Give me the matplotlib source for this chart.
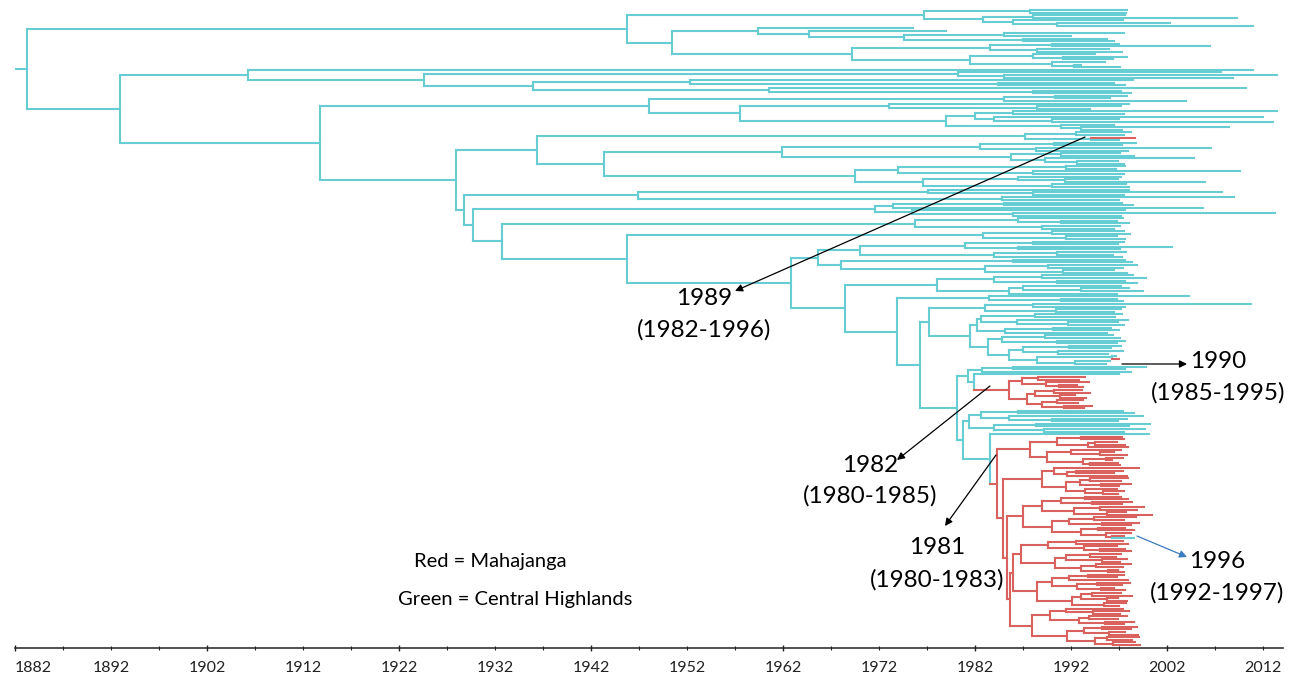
import matplotlib
matplotlib.use("Agg")
import numpy as np
import matplotlib.pyplot as plt
import matplotlib.patches
from matplotlib.collections import LineCollection
from matplotlib.ticker import FixedLocator, FuncFormatter

plt.rcParams["font.family"] = ["Lato", "DejaVu Sans"]

CYAN = "#66CED2"
RED = "#D9625F"
ARROW_BLUE = "#3A7CC0"

# ---------------- tree data (node / tip dates in calendar years) ----------------
# Newick-like strings: tips are sampling dates, ")year" gives the date of an
# internal node; prefix r = Mahajanga (red) lineage, c = Central Highlands.
A_UP = "((1997.8,1997.7)1987.7,((1997.6,2009.3)1988,(1997.4,(2002.3,2011.0)1990.5)1986)1982.8)1976.7"
A_LOW = ("((1975.5,(1979,((1997.5,1992)1985,(1995.8,1996.5)1987)1974.6)1964.7)1959.4,"
         "(((1997,2006.5)1990,(1996,1997.3)1988.5)1983.6,((1994.5,(1997.8,1996.4)1991.2)1988,"
         "(1995.5,(1993,1997.1)1992.3)1990)1981.5)1969.2)1950.4")
B1 = ("(2011.0,((2007.6,(2013.5,2008.9)1985)1980.2,((1998.5,(1996.5,1997.6)1984.4)1952.3,"
      "(2010.2,(1997.2,1998.2)1988)1960.5)1936)1924.6)1906.3")
B2A = ("(((1997.8,1996.1)1990.3,2004.0)1985,((1998,(1997.2,1994)1988.5)1973,(((2013.5,1997.5)1986,"
       "(2012.0,(1997,2013.0)1990)1984)1982,(1996.5,(2008.5,1997.3)1993)1991)1979)1957.5)1948")
Q1 = "((1998.2,1997.5)1992.5,(r1998.7,1997)1994.1)1987.2"
Q2A = ("(((1998.8,1997.3)1990.2,(2006.6,1997.9)1988.4)1982.5,((1997.1,1998.6)1991,"
       "(2004.8,(1996.9,1997.5)1992.6)1989.3)1985.7)1961.9")
Q2B = ("(((1997.6,1996.7)1991.5,(2009.6,1997.5)1988)1974,((1997.2,(1996.9,2006)1991.4)1986.5,"
       "(1997.7,1998)1990)1976.6)1969.5")
S1 = "((1998,(2007.7,1997.5)1988)1977.1,(2009,1997)1984.8)1946.9"
S2 = "(((1997.3,1998.5)1985,2005.8)1973.5,(1997.6,(2013.2,1997.2)1986)1975.4)1971.6"
S3 = "((1997.4,(1996.8,1998)1991)1986.5,(1997.1,1996.5)1989)1975.8"
S4 = "((1997.5,1998.1)1990,(1996.8,1997.6)1991.5)1982.8"
S5 = ("((((1997.5,1996.9)1988,(2002.5,1997.1)1986.5)1981,((1997.7,1996.4)1990.5,1997.3)1984)1970,"
      "((1997.6,1998.4)1986,((1998.9,1997.4)1989.6,(1996.5,1997.8)1991.2)1983)1968)1965.6")
S6 = "(((1998.5,1999.8)1989,(1997.6,1998.9)1990.5)1984,((1997.2,(1998,1999.5)1993)1987,1996.8)1985.5)1978"
S7 = "(2004.3,(1996.8,1997.4)1991)1983.5"
S8A = "((2010.8,1997.6)1988,(1997.2,1996.5)1990.4)1983"
S8B = ("((((1997.3,1996.6)1988.2,(1997.9,(1996.9,1997.5)1991.7)1986.4)1982.6,((1996.2,1997.0)1990.1,"
       "1995.8)1985.1)1982.2,(((1996.4,1997.1)1989.3,(1997.6,1996.8)1990.5)1984.8,(((1997.2,1996.2)1991.8,"
       "(1997.4,1995.9)1990.6)1987,((1996.7,r1997.0)1996.3,(1996.1,1995.6)1992.4)1988.5)1985.5)1983.4)1981.5")
R1 = ("(((1993.5,1992.8)1988.6,(1993.9,(1992.6,1993.2)1990.8)1989.4)1986.9,(((1993.1,1994)1990.2,"
      "(1992.4,1993.6)1990.9)1988.2,((1993.3,1992.7)1990.5,(1994.2,1993.4)1991.3)1989)1987.4)r1985.5")
S10 = ("(((1997.4,1998.6)1986.5,(1999.5,(1997.8,1996.9)1990)1985.5)1982.6,((2000.2,1998)1988.4,"
       "(1999.7,1997.5)1989.2)1984)1981.4")
R_A = ("(((1997.3,1997.5)1993,((1996.8,1997.6)1994.5,1997.9)1993.8)1990.5,((1997.2,(1996.5,1997.8)1995)1992,"
       "((1997.4,1996.3)1995.6,(1996.9,1997.1)1994)1993.2)1989.5)1987.7")
R_B = ("((1999.1,((1997.4,1996.5)1992.5,1997.8)1991.6)1990.2,(((1997.9,1997.2)1994,(1998.3,1997.0)1995.1)1992.9,"
       "(1996.8,(1997.5,1996.9)1995.3)1993.5)1991.5)1989")
R_C = ("((((1997.2,1997.9)1993.5,(1998.4,1997.3)1994.2)1991,((1999.6,1998.9)1995,(1997.7,2000.4)1995.8)1992.3)1989,"
       "(((1998.8,1997.5)1994.4,(1999.1,1998.2)1995.2)1991.8,((1997.6,1998.6)1994.8,(1998.3,(1997.5,c1998.6)1996.3)"
       "1995.6)1993)1990)1987")
R_D = ("(((1997.4,1997.9)1992.5,(1996.8,(1997.6,1998.3)1995)1993.4)1989.6,(((1997.2,1996.7)1994,(1997.8,1997.1)1995.2)"
       "1991.5,((1998.2,1997.4)1994.6,(1996.9,1997.5)1995.9)1993)1990.3)1986.8")
R_E = ("((((1997.5,1996.8)1993.8,1997.9)1991.8,((1998.1,1997.3)1994.7,(1996.5,1997.6)1995.1)1992.6)1990,"
       "(((1997.2,1998.4)1994.2,(1996.9,1997.8)1995.7)1993,(1997.7,1997)1995.4)1992.1)1988.5")
R_F = ("(((1997.4,(1998,1997.1)1994.3)1991.5,((1997.8,1996.9)1993.9,(1998.6,1997.5)1995.5)1992.8)1989.8,"
       "(((1998.9,1998.2)1995.2,(1997.6,1999)1996)1993.4,((1999.1,1998.4)1995.8,(1998.7,1999.2)1996.4)1994.5)"
       "1991.6)1987.9")

# backbone node dates
ROOT_STEM_START = 1882.0
ROOT_DATE = 1883.25
A_DATE, B_DATE, B2_DATE, B2B_DATE, B2B1_DATE, Q2_DATE = 1945.75, 1892.9, 1913.8, 1927.9, 1936.4, 1943.4
S8_DATE, S9_DATE, S9B_DATE, S9A = 1977.2, 1981.3, 1981.9, "((1999.8,1997.6)1986,1998.2)1982.7"
S9_TIP = "1997"
LADDER_DATES = [1928.8, 1929.7, 1932.7, 1945.7, 1962.8, 1968.5, 1973.9, 1976.3, 1980.1, 1980.8]
TAIL_TIP, TAIL_DATE = "2000.1", 1983.6
RED_INNER_DATES = [1984.3, 1984.9, 1985.3, 1985.6, 1986.0]

# tick labels
TICK_YEARS = list(range(1882, 2013, 10))

# ---------------- assemble tree ----------------
RED_BIG = (f"({R_A},({R_B},({R_C},(({R_D},{R_E}){RED_INNER_DATES[4]},{R_F}){RED_INNER_DATES[3]})"
           f"{RED_INNER_DATES[2]}){RED_INNER_DATES[1]})r{RED_INNER_DATES[0]}")
S8 = f"({S8A},{S8B}){S8_DATE}"
S9 = f"({S9A},({S9_TIP},{R1}){S9B_DATE}){S9_DATE}"
sides = [S1, S2, S3, S4, S5, S6, S7, S8, S9, S10]
sub = f"({TAIL_TIP},{RED_BIG}){TAIL_DATE}"
for d, side in zip(LADDER_DATES[::-1], sides[::-1]):
    sub = f"({side},{sub}){d}"
N1 = sub
A = f"({A_UP},{A_LOW}){A_DATE}"
Q2 = f"({Q2A},{Q2B}){Q2_DATE}"
B2B = f"(({Q1},{Q2}){B2B1_DATE},{N1}){B2B_DATE}"
B = f"({B1},({B2A},{B2B}){B2_DATE}){B_DATE}"
TREE = f"({A},{B}){ROOT_DATE}"


def parse(s):
    pos = 0

    def label():
        nonlocal pos
        st = pos
        while pos < len(s) and s[pos] not in ",()":
            pos += 1
        tok = s[st:pos].strip()
        flag = None
        if tok and tok[0] in "rc":
            flag, tok = tok[0], tok[1:]
        return float(tok), flag

    def node():
        nonlocal pos
        kids = []
        if s[pos] == "(":
            pos += 1
            kids.append(node())
            while s[pos] == ",":
                pos += 1
                kids.append(node())
            pos += 1
        t, flag = label()
        return {"t": t, "flag": flag, "kids": kids}

    return node()


root = parse(TREE)
counter = [0]


def layout(n, col):
    if n["flag"] == "r":
        col = RED
    elif n["flag"] == "c":
        col = CYAN
    n["col"] = col
    if not n["kids"]:
        n["y"] = counter[0]
        counter[0] += 1
    else:
        for k in n["kids"]:
            layout(k, col)
        n["y"] = 0.5 * (n["kids"][0]["y"] + n["kids"][-1]["y"])


layout(root, CYAN)
NTIPS = counter[0]

segs, cols = [], []


def collect(n, parent_t):
    segs.append([(parent_t, n["y"]), (n["t"], n["y"])])
    cols.append(n["col"])
    if n["kids"]:
        segs.append([(n["t"], n["kids"][0]["y"]), (n["t"], n["kids"][-1]["y"])])
        cols.append(n["col"])
        for k in n["kids"]:
            collect(k, n["t"])


collect(root, ROOT_STEM_START)

# ---------------- figure ----------------
W, H = 1300, 674
fig = plt.figure(figsize=(13, 6.74), dpi=100)
px_per_year = 9.6
ax = fig.add_axes([15 / W, 26 / H, 1268 / W, 648 / H])
ax.set_xlim(1882, 1882 + 1268 / px_per_year)
step = 635.0 / (NTIPS - 1)
ax.set_ylim(638.0 / step, -10.0 / step)

lc = LineCollection(segs, colors=cols, linewidths=1.5, capstyle="projecting")
ax.add_collection(lc)

for sp in ["top", "left", "right"]:
    ax.spines[sp].set_visible(False)
ax.spines["bottom"].set_linewidth(1.1)
ax.spines["bottom"].set_color("#222222")
ax.set_yticks([])

major = [y for y in range(1882, 2015, 20)]
minor = [y for y in range(1882, 2015, 5) if y not in major]
ax.xaxis.set_major_locator(FixedLocator(major))
ax.xaxis.set_minor_locator(FixedLocator(minor))
fmt = FuncFormatter(lambda v, p: str(int(round(v))) if int(round(v)) in TICK_YEARS else "")
ax.xaxis.set_major_formatter(fmt)
ax.xaxis.set_minor_formatter(fmt)
ax.tick_params(axis="x", which="major", direction="inout", length=5, width=1.0, pad=6.5,
               labelsize=11.5, colors="#222222")
ax.tick_params(axis="x", which="minor", direction="inout", length=3, width=0.8, pad=7.5,
               labelsize=11.5, colors="#222222")


def fpx(x, y):
    return (x, H - y)


def arrow(tail, head, color="black"):
    fig.add_artist(matplotlib.patches.FancyArrowPatch(
        fpx(*tail), fpx(*head), transform=None, arrowstyle="-|>", color=color,
        lw=0.9, mutation_scale=11, shrinkA=0, shrinkB=0))


def label2(x, y1, y2, s1, s2, fs=17.5):
    fig.text(x / W, 1 - y1 / H, s1, ha="center", va="center", fontsize=fs)
    fig.text(x / W, 1 - y2 / H, s2, ha="center", va="center", fontsize=fs)


arrow((1085, 137), (735, 291))
label2(704, 298, 330, "1989", "(1982-1996)")
arrow((1122, 364), (1187, 364))
label2(1218, 362, 393, "1990", "(1985-1995)")
arrow((990, 386), (897, 460))
label2(870, 465, 496, "1982", "(1980-1985)")
arrow((996, 455), (945, 526))
label2(937, 548, 580, "1981", "(1980-1983)")
arrow((1137, 536), (1187, 557), ARROW_BLUE)
label2(1217, 561, 593, "1996", "(1992-1997)")

fig.text(490 / W, 1 - 561 / H, "Red = Mahajanga", ha="center", va="center", fontsize=14.5)
fig.text(515 / W, 1 - 600 / H, "Green = Central Highlands", ha="center", va="center", fontsize=14.5)

fig.canvas.draw()
first = ax.xaxis.get_major_ticks()[0]
first.label1.set_horizontalalignment("left")

fig.savefig("out.png", dpi=100)
